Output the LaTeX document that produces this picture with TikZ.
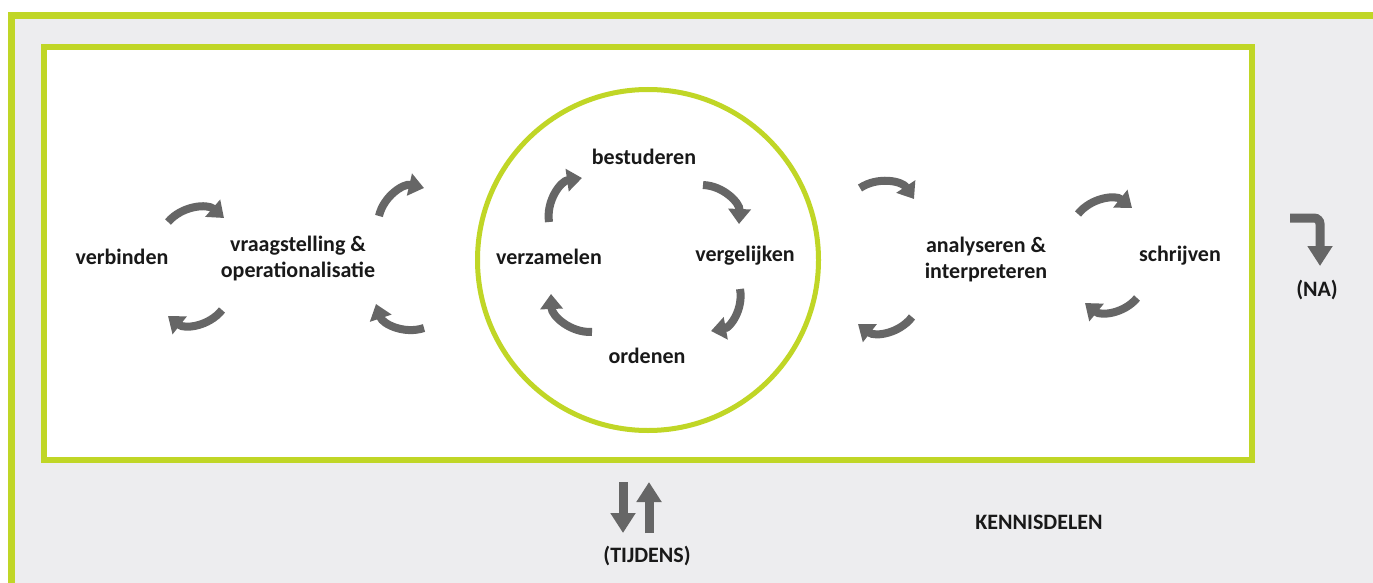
\documentclass[tikz,border=0pt]{standalone}
\usepackage{fontspec}
\setmainfont{Carlito}
\usetikzlibrary{arrows.meta}
\definecolor{lime}{RGB}{192,214,38}
\definecolor{bggray}{RGB}{237,237,239}
\definecolor{arrgray}{RGB}{102,102,102}
\definecolor{txt}{RGB}{25,25,25}
\tikzset{
  lbl/.style={font=\fontsize{22}{26}\selectfont\bfseries, text=txt, align=center, inner sep=0pt},
  carrow/.style={draw=arrgray, line width=8pt, -{Triangle[width=22pt,length=15pt]}, bend left=45},
  sarrow/.style={draw=arrgray, line width=9pt, -{Triangle[width=24pt,length=20pt]}},
}
\begin{document}
\begin{tikzpicture}[x=1pt,y=-1pt]
\useasboundingbox (0,0) rectangle (1373,583);
\fill[white] (0,0) rectangle (1373,583);
% outer gray panel with green top/left edge
\fill[bggray] (8,12) rectangle (1373,583);
\fill[lime] (8,12) rectangle (1373,19);
\fill[lime] (8,12) rectangle (15,583);
% inner white box
\node[draw=lime, line width=6pt, fill=white, minimum width=1208pt, minimum height=413pt, inner sep=0pt] (box) at (648,253.5) {};
% circle
\node[draw=lime, line width=5pt, fill=white, circle, minimum size=341pt, inner sep=0pt] (circ) at (648,260) {};

% labels
\node[lbl] (verb) at (122,257) {verbinden};
\node[lbl] (vraag) at (298,259) {vraagstelling \&\\operationalisatie};
\node[lbl] (best) at (644,157) {bestuderen};
\node[lbl] (verz) at (549,257) {verzamelen};
\node[lbl] (verg) at (745,256) {vergelijken};
\node[lbl] (orde) at (647,356) {ordenen};
\node[lbl] (anal) at (986,260) {analyseren \&\\interpreteren};
\node[lbl] (schr) at (1180,256) {schrijven};
\node[lbl] (na) at (1317,290) {(NA)};
\node[lbl] (tijd) at (647,556) {(TIJDENS)};
\node[lbl] (kenn) at (1039,522) {KENNISDELEN};

% curved arrows, left part
\coordinate (a1s) at (168,222); \coordinate (a1e) at (224,218);
\coordinate (a2s) at (222,310); \coordinate (a2e) at (168,316);
\coordinate (a3s) at (379,216); \coordinate (a3e) at (424,188);
\coordinate (a4s) at (424,328); \coordinate (a4e) at (376,304);
\draw[carrow] (a1s) to (a1e);
\draw[carrow] (a2s) to (a2e);
\draw[carrow] (a3s) to (a3e);
\draw[carrow] (a4s) to (a4e);
% circle arrows
\coordinate (c1s) at (549,222); \coordinate (c1e) at (582,178);
\coordinate (c2s) at (703,185); \coordinate (c2e) at (739,224);
\coordinate (c3s) at (740,289); \coordinate (c3e) at (711,331);
\coordinate (c4s) at (592,332); \coordinate (c4e) at (551,294);
\draw[carrow] (c1s) to (c1e);
\draw[carrow] (c2s) to (c2e);
\draw[carrow] (c3s) to (c3e);
\draw[carrow] (c4s) to (c4e);
% right part
\coordinate (r1s) at (860,188); \coordinate (r1e) at (914,199);
\coordinate (r2s) at (912,317); \coordinate (r2e) at (858,324);
\coordinate (r3s) at (1078,214); \coordinate (r3e) at (1132,208);
\coordinate (r4s) at (1137,298); \coordinate (r4e) at (1085,303);
\draw[carrow] (r1s) to (r1e);
\draw[carrow] (r2s) to (r2e);
\draw[carrow] (r3s) to (r3e);
\draw[carrow] (r4s) to (r4e);

% NA arrow
\coordinate (n1) at (1290,218); \coordinate (n2) at (1320,218); \coordinate (n3) at (1320,266);
\draw[sarrow, rounded corners=6pt] (n1) -- (n2) -- (n3);
% TIJDENS arrows
\coordinate (t1s) at (623,482); \coordinate (t1e) at (623,533);
\coordinate (t2s) at (649,533); \coordinate (t2e) at (649,482);
\draw[sarrow] (t1s) -- (t1e);
\draw[sarrow] (t2s) -- (t2e);
\end{tikzpicture}
\end{document}
